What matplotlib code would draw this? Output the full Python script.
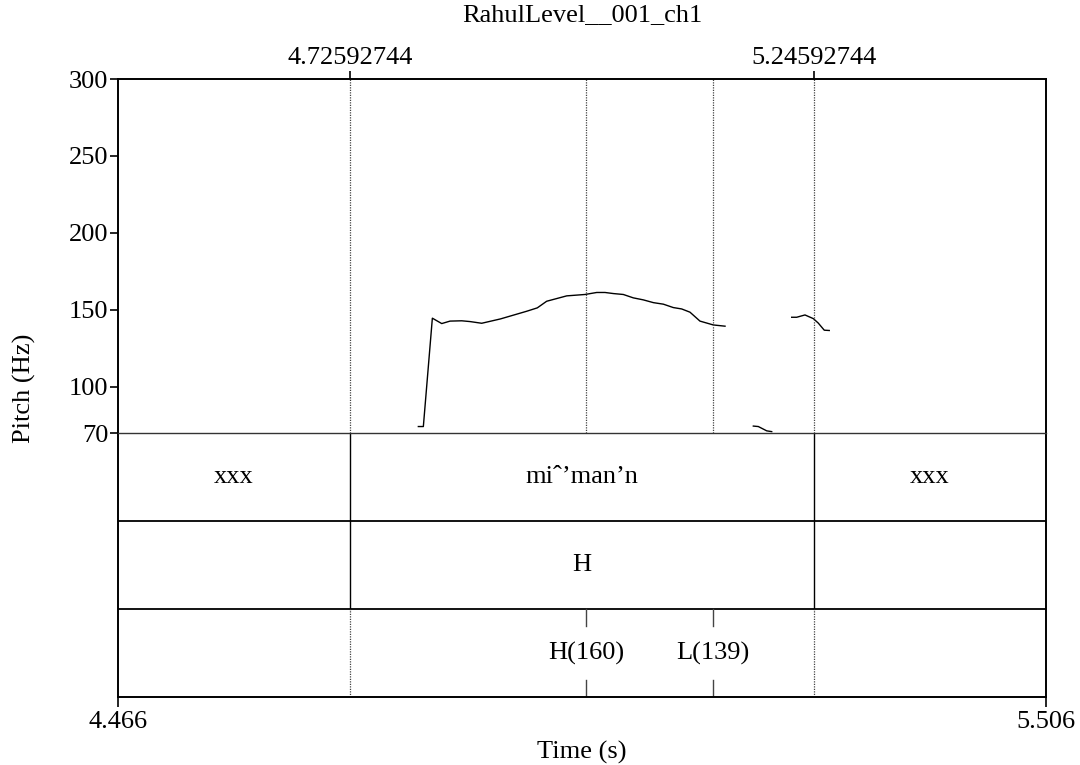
import matplotlib
matplotlib.use("Agg")
import matplotlib.pyplot as plt

plt.rcParams['font.family'] = ['Liberation Serif', 'DejaVu Serif']
plt.rcParams['font.size'] = 19

# pitch contour (voiced stretches)
seg1_t = [4.8026, 4.8082, 4.8183, 4.8288, 4.8381, 4.8512, 4.8605, 4.8736, 4.8945,
          4.9128, 4.9240, 4.9359, 4.9464, 4.9689, 4.9894, 5.0025, 5.0118, 5.0211,
          5.0323, 5.0435, 5.0547, 5.0660, 5.0772, 5.0883, 5.0977, 5.1070, 5.1182,
          5.1332, 5.1463]
seg1_f = [74.2, 74.2, 144.6, 141.1, 142.7, 142.9, 142.4, 141.3, 144.1,
          147.2, 149.1, 151.3, 155.6, 159.1, 160.0, 161.3, 161.3, 160.6,
          160.0, 157.8, 156.5, 154.7, 153.7, 151.5, 150.6, 148.5, 142.7,
          140.2, 139.4]
seg2_t = [5.1780, 5.1836, 5.1930, 5.1986]
seg2_f = [74.5, 74.2, 71.4, 70.9]
seg3_t = [5.2210, 5.2266, 5.2359, 5.2453, 5.2508, 5.2575, 5.2631]
seg3_f = [145.2, 145.2, 146.7, 144.3, 141.4, 136.8, 136.6]

t_start, t_end = 4.466, 5.506
boundaries = [4.72592744, 5.24592744]
words = ["xxx", "mi\u02c6\u2019man\u2019n", "xxx"]
accent_label = "H"
point_times = [4.9905, 5.1328]
point_labels = ["H(160)", "L(139)"]
yticks = [70, 100, 150, 200, 250, 300]

fig = plt.figure(figsize=(10.8, 7.65), dpi=100)
L, W = 118 / 1080, 928 / 1080
tx = fig.add_axes([L, 1 - 697 / 765, W, 264 / 765])
ax = fig.add_axes([L, 1 - 433 / 765, W, 354 / 765])
ax.patch.set_alpha(0)
tx.patch.set_alpha(0)

dot = dict(color='#444444', lw=0.9, ls=(0, (1, 1)))

# pitch panel
for t, f in [(seg1_t, seg1_f), (seg2_t, seg2_f), (seg3_t, seg3_f)]:
    ax.plot(t, f, color='black', lw=1.0)
for b in boundaries + point_times:
    ax.axvline(b, **dot)
ax.set_xlim(t_start, t_end)
ax.set_ylim(70, 300)
ax.set_yticks(yticks)
ax.tick_params(axis='y', direction='out', length=6, width=1.2, pad=1)
ax.xaxis.set_ticks_position('top')
ax.set_xticks(boundaries)
ax.set_xticklabels(["%.8f" % b for b in boundaries])
ax.tick_params(axis='x', direction='out', length=6, width=1.2, pad=1)
ax.set_ylabel("Pitch (Hz)")
ax.yaxis.set_label_coords(-0.0885, 0.127)
for s in ['left', 'top', 'right']:
    ax.spines[s].set_linewidth(1.4)
ax.spines['bottom'].set_linewidth(1.0)
ax.spines['bottom'].set_color('#333333')

# text grid
tx.set_xlim(t_start, t_end)
tx.set_ylim(0, 3)
tx.axhline(1, color='black', lw=1.3)
tx.axhline(2, color='black', lw=1.3)
for b in boundaries:
    tx.plot([b, b], [1, 3], color='black', lw=1.0)
    tx.plot([b, b], [0, 1], **dot)
edges = [t_start] + boundaries + [t_end]
for i, w in enumerate(words):
    tx.text((edges[i] + edges[i + 1]) / 2, 2.5, w, ha='center', va='center')
tx.text((boundaries[0] + boundaries[1]) / 2, 1.5, accent_label, ha='center', va='center')
for t, lab in zip(point_times, point_labels):
    tx.plot([t, t], [1, 0.81], color='#444444', lw=1.0)
    tx.plot([t, t], [0, 0.19], color='#444444', lw=1.0)
    tx.text(t, 0.5, lab, ha='center', va='center')
tx.set_yticks([])
tx.set_xticks([t_start, t_end])
tx.set_xticklabels(["4.466", "5.506"])
tx.tick_params(axis='x', direction='out', length=7, width=1.2, pad=3)
tx.set_xlabel("Time (s)", labelpad=6)
tx.spines['top'].set_visible(False)
for s in ['left', 'bottom', 'right']:
    tx.spines[s].set_linewidth(1.4)

fig.text(582 / 1080, 1 - 15 / 765, "RahulLevel__001_ch1", ha='center', va='center')

fig.savefig("out.png", dpi=100)
